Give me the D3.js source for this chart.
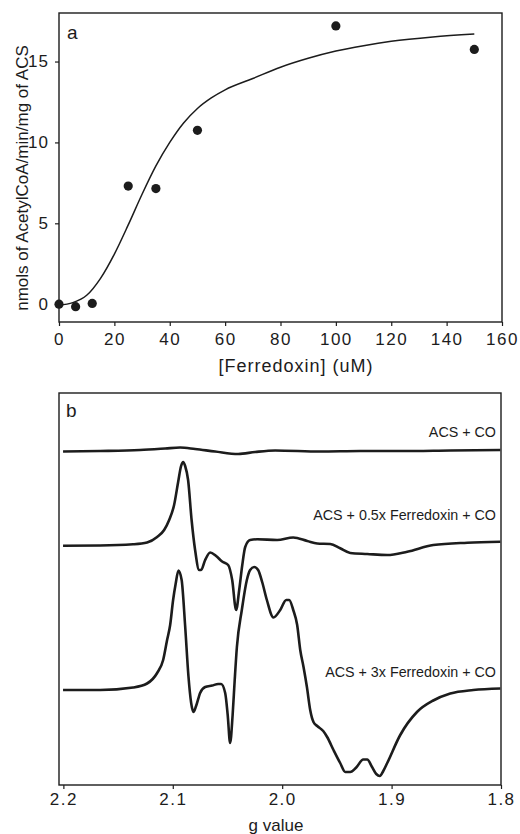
<!DOCTYPE html>
<html>
<head>
<meta charset="utf-8">
<script src="https://cdn.jsdelivr.net/npm/d3@7"></script>
<style>
body { margin: 0; background: #fff; }
text { font-family: "Liberation Sans", Arial, sans-serif; fill: #1c1c1c; }
</style>
</head>
<body>
<script>
var width = 520, height = 834
var ink = "#1c1c1c"

// panel a: ACS activity against ferredoxin concentration
var ferredoxin = [0, 6, 12, 25, 35, 50, 100, 150]
var activity = [0, -0.15, 0.05, 7.3, 7.15, 10.75, 17.2, 15.75]
// fitted curve
var fitX = [0, 5, 10, 15, 20, 25, 30, 35, 40, 45, 50, 55, 60, 70, 80, 90, 100, 110, 120, 135, 150]
var fitY = [-0.05, 0.1, 0.55, 1.6, 3.1, 4.9, 6.8, 8.55, 10.0, 11.2, 12.1, 12.75, 13.25, 13.95, 14.65, 15.2, 15.65, 15.98, 16.25, 16.52, 16.7]
var xTicksA = [0, 20, 40, 60, 80, 100, 120, 140, 160]
var yTicksA = [0, 5, 10, 15]

// panel b: EPR spectra, [g, signal in a.u.]
var gTicks = [2.2, 2.1, 2.0, 1.9, 1.8]
var traceLabels = ["ACS + CO", "ACS + 0.5x Ferredoxin + CO", "ACS + 3x Ferredoxin + CO"]
var acsCO = [[2.2003, -0.5], [2.1664, 0], [2.1299, 1], [2.1070, 2.5], [2.0933, 3.5], [2.0796, 2],
	[2.0613, -0.5], [2.0402, -3], [2.0247, -1], [2.0064, 0.5], [1.9653, -0.5], [1.9287, 0],
	[1.8921, 0], [1.8464, 0.5], [1.8006, 1]]
var acsHalfFd = [[2.2003, 0], [2.1664, 0.2], [2.1363, 1.4], [2.1235, 3.2], [2.1143, 8.7], [2.1079, 15.7],
	[2.1033, 25.7], [2.0988, 40.7], [2.0951, 63.7], [2.0924, 79.7], [2.0905, 83.7], [2.0887, 79.7],
	[2.0860, 65.7], [2.0828, 25.7], [2.0796, -4.3], [2.0759, -24.3], [2.0741, -24.3], [2.0704, -14.3],
	[2.0658, -6.8], [2.0604, -10.3], [2.0549, -15.8], [2.0494, -19.3], [2.0457, -34.3], [2.0421, -64.3],
	[2.0393, -44.3], [2.0366, -20.3], [2.0338, -1.3], [2.0293, 5.7], [2.0229, 6.4], [2.0046, 5.7],
	[1.9899, 8.2], [1.9771, 4.7], [1.9680, 2.2], [1.9561, 1.7], [1.9470, -2.6], [1.9378, -7.3],
	[1.9223, -8.3], [1.9040, -9.3], [1.8857, -6], [1.8619, 0.7], [1.8308, 3], [1.8006, 4]]
var acsThreeFd = [[2.2003, 0], [2.1664, 0], [2.1363, 2.5], [2.1235, 6.5], [2.1143, 17], [2.1088, 30],
	[2.1052, 50], [2.1024, 65], [2.0997, 90], [2.0974, 106], [2.0948, 119.5], [2.0919, 110],
	[2.0887, 64], [2.0857, 14], [2.0832, -13], [2.0811, -22], [2.0787, -16], [2.0750, -3],
	[2.0704, 3], [2.0640, 4.5], [2.0585, 6], [2.0558, 6], [2.0521, -3], [2.0498, -25],
	[2.0476, -53], [2.0453, -25], [2.0434, 10], [2.0414, 43], [2.0369, 80], [2.0323, 110],
	[2.0293, 120], [2.0256, 123], [2.0220, 120], [2.0183, 108], [2.0140, 90], [2.0080, 72.5],
	[2.0018, 80], [1.9963, 90], [1.9936, 90], [1.9899, 80], [1.9863, 65], [1.9835, 40],
	[1.9805, 23], [1.9774, 3], [1.9744, -20], [1.9714, -32], [1.9680, -36], [1.9625, -41],
	[1.9589, -47], [1.9531, -60], [1.9470, -73], [1.9423, -82], [1.9378, -82], [1.9323, -77.5],
	[1.9259, -69.5], [1.9223, -69.5], [1.9180, -76.7], [1.9140, -84], [1.9108, -86], [1.9076, -81],
	[1.9040, -73], [1.8921, -45], [1.8768, -22], [1.8619, -10.5], [1.8464, -3.5], [1.8253, 0],
	[1.8006, 1.5]]
var traces = [acsCO, acsHalfFd, acsThreeFd]

var svg = d3.select("body").append("svg")
	.attr("width", width)
	.attr("height", height)

// ---------- panel a ----------
var a = { left: 59, right: 502, top: 13, bottom: 322 }
var xA = d3.scaleLinear().domain([0, 160]).range([a.left, a.right])
var yA = d3.scaleLinear().domain([-1.1, 18]).range([a.bottom, a.top])

var gA = svg.append("g")
gA.append("rect")
	.attr("x", a.left).attr("y", a.top)
	.attr("width", a.right - a.left).attr("height", a.bottom - a.top)
	.attr("fill", "none").attr("stroke", ink).attr("stroke-width", 1.4)

var axA = gA.append("g")
	.attr("transform", "translate(0," + a.bottom + ")")
	.call(d3.axisBottom(xA).tickValues(xTicksA).tickSize(4).tickPadding(7).tickSizeOuter(0))
var ayA = gA.append("g")
	.attr("transform", "translate(" + a.left + ",0)")
	.call(d3.axisLeft(yA).tickValues(yTicksA).tickSize(4).tickPadding(6).tickSizeOuter(0))
;[axA, ayA].forEach(function (ax) {
	ax.select(".domain").remove()
	ax.selectAll("line").attr("stroke", ink).attr("stroke-width", 1.2)
	ax.selectAll("text").attr("fill", ink)
		.style("font-family", "'Liberation Sans', Arial, sans-serif")
		.style("font-size", "17px")
})
axA.selectAll("text").style("letter-spacing", "1.5px")
ayA.selectAll("text").style("letter-spacing", "1px")

var fit = d3.line()
	.x(function (d, i) { return xA(fitX[i]) })
	.y(function (d, i) { return yA(fitY[i]) })
	.curve(d3.curveMonotoneX)
gA.append("path")
	.attr("d", fit(fitX))
	.attr("fill", "none").attr("stroke", ink).attr("stroke-width", 1.5)

gA.selectAll(".dot")
	.data(ferredoxin)
	.enter()
	.append("circle")
		.attr("class", "dot")
		.attr("cx", function (d) { return xA(d) })
		.attr("cy", function (d, i) { return yA(activity[i]) })
		.attr("r", 4.6)
		.attr("fill", ink)

gA.append("text")
	.attr("x", 67).attr("y", 39)
	.style("font-size", "19px")
	.text("a")
gA.append("text")
	.attr("x", 296).attr("y", 372)
	.attr("text-anchor", "middle")
	.style("font-size", "18px").style("letter-spacing", "1px")
	.text("[Ferredoxin] (uM)")
gA.append("text")
	.attr("transform", "translate(28," + 178 + ") rotate(-90)")
	.attr("text-anchor", "middle")
	.style("font-size", "17px")
	.text("nmols of AcetylCoA/min/mg of ACS")

// ---------- panel b ----------
var b = { left: 59, right: 501, top: 393, bottom: 785 }
var xB = d3.scaleLinear().domain([2.204, 1.8]).range([b.left, b.right])
var yB = d3.scaleLinear().domain([0, b.bottom - b.top]).range([b.bottom, b.top])
// vertical stacking of the three spectra (in the a.u. of yB)
var traceOffset = [334, 239.3, 95]
var labelLift = [13.7, 25.7, 13.3]

var gB = svg.append("g")
gB.append("rect")
	.attr("x", b.left).attr("y", b.top)
	.attr("width", b.right - b.left).attr("height", b.bottom - b.top)
	.attr("fill", "none").attr("stroke", ink).attr("stroke-width", 1.4)

var axB = gB.append("g")
	.attr("transform", "translate(0," + b.bottom + ")")
	.call(d3.axisBottom(xB).tickValues(gTicks).tickFormat(d3.format(".1f")).tickSize(4).tickPadding(4).tickSizeOuter(0))
axB.select(".domain").remove()
axB.selectAll("line").attr("stroke", ink).attr("stroke-width", 1.2)
axB.selectAll("text").attr("fill", ink)
	.style("font-family", "'Liberation Sans', Arial, sans-serif")
	.style("font-size", "17px")
	.style("letter-spacing", "1.5px")

traces.forEach(function (trace, k) {
	var line = d3.line()
		.x(function (d) { return xB(d[0]) })
		.y(function (d) { return yB(traceOffset[k] + d[1]) })
		.curve(d3.curveMonotoneX)
	gB.append("path")
		.attr("d", line(trace))
		.attr("fill", "none").attr("stroke", ink)
		.attr("stroke-width", 2.6).attr("stroke-linejoin", "round")
	gB.append("text")
		.attr("x", 496)
		.attr("y", yB(traceOffset[k]) - labelLift[k])
		.attr("text-anchor", "end")
		.style("font-size", "14.3px")
		.text(traceLabels[k])
})

gB.append("text")
	.attr("x", 66).attr("y", 417)
	.style("font-size", "19px")
	.text("b")
gB.append("text")
	.attr("x", 276).attr("y", 831)
	.attr("text-anchor", "middle")
	.style("font-size", "17px")
	.text("g value")
</script>
</body>
</html>
